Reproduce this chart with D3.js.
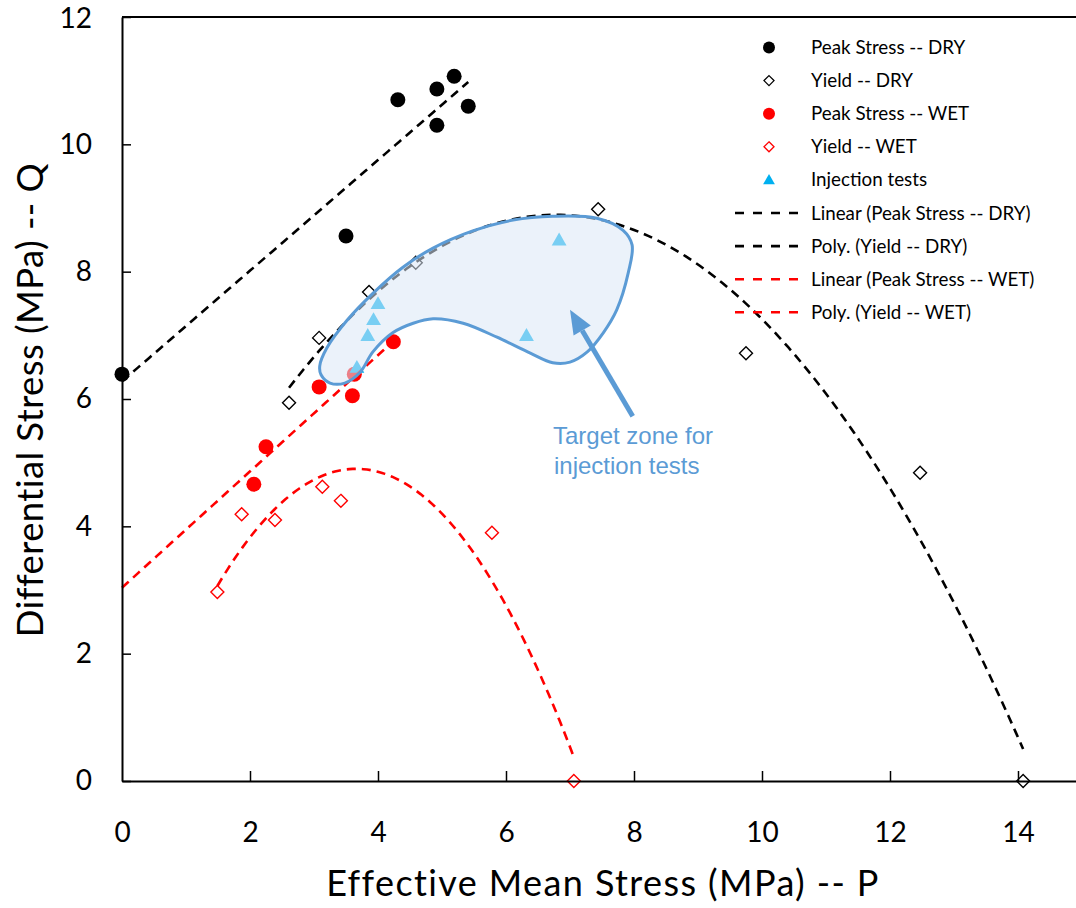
<!DOCTYPE html>
<html><head><meta charset="utf-8">
<script src="https://cdn.jsdelivr.net/npm/d3@7"></script>
<style>
body{margin:0;background:#fff}
svg{display:block;font-family:Lato,"Open Sans",sans-serif}
</style>
</head><body>
<svg id="chart" width="1076" height="908"></svg>
<script>
// Test results: effective mean stress P (MPa) vs differential stress Q (MPa)
const peakDryP = [0, 3.50, 4.31, 4.92, 4.92, 5.19, 5.41];
const peakDryQ = [6.39, 8.56, 10.70, 10.87, 10.30, 11.07, 10.60];
const yieldDryP = [2.61, 3.08, 3.86, 4.59, 7.44, 9.75, 12.47, 14.08];
const yieldDryQ = [5.94, 6.96, 7.68, 8.14, 8.98, 6.72, 4.84, 0.00];
const peakWetP = [2.06, 2.25, 3.08, 3.60, 3.63, 4.24];
const peakWetQ = [4.66, 5.25, 6.19, 6.05, 6.39, 6.90];
const yieldWetP = [1.49, 1.87, 2.39, 3.13, 3.42, 5.78, 7.06];
const yieldWetQ = [2.97, 4.19, 4.10, 4.62, 4.40, 3.90, 0.00];
const injP = [3.67, 3.84, 3.93, 4.00, 6.32, 6.83];
const injQ = [6.48, 6.98, 7.23, 7.48, 6.98, 8.48];

// Outline of the target zone (P, Q)
const zoneP = [3.09, 3.20, 3.52, 3.92, 4.39, 4.86, 5.48, 6.11, 6.73, 7.42, 7.83, 7.97, 7.91, 7.73, 7.52, 7.27, 7.00, 6.73, 6.38, 5.86, 5.33, 4.86, 4.55, 4.23, 3.92, 3.72, 3.48, 3.25, 3.11];
const zoneQ = [6.52, 6.80, 7.24, 7.66, 8.07, 8.37, 8.64, 8.81, 8.87, 8.84, 8.65, 8.42, 7.98, 7.40, 7.04, 6.74, 6.58, 6.57, 6.72, 6.97, 7.19, 7.26, 7.19, 7.04, 6.74, 6.42, 6.25, 6.25, 6.38];
const arrowFrom = [7.98, 5.73];
const arrowTo = [7.00, 7.40];

const xTicks = [0, 2, 4, 6, 8, 10, 12, 14];
const yTicks = [0, 2, 4, 6, 8, 10, 12];

const svg = d3.select("#chart");
const x = d3.scaleLinear().domain([0, 15]).range([122, 1082]);
const y = d3.scaleLinear().domain([0, 12]).range([781, 17]);

const zip = (a, b) => a.map((v, i) => [v, b[i]]);

// least-squares polynomial fit of given order (trendline)
function polyfit(xs, ys, order) {
  const n = order + 1;
  const A = Array.from({length: n}, () => new Array(n + 1).fill(0));
  xs.forEach((xv, k) => {
    for (let i = 0; i < n; i++) {
      for (let j = 0; j < n; j++) A[i][j] += Math.pow(xv, i + j);
      A[i][n] += ys[k] * Math.pow(xv, i);
    }
  });
  for (let c = 0; c < n; c++) {
    let p = c;
    for (let r = c + 1; r < n; r++) if (Math.abs(A[r][c]) > Math.abs(A[p][c])) p = r;
    [A[c], A[p]] = [A[p], A[c]];
    for (let r = 0; r < n; r++) {
      if (r === c) continue;
      const f = A[r][c] / A[c][c];
      for (let k = c; k <= n; k++) A[r][k] -= f * A[c][k];
    }
  }
  const coef = A.map((row, i) => row[n] / row[i]);
  return xv => coef.reduce((s, cf, i) => s + cf * Math.pow(xv, i), 0);
}
function trendPoints(f, x0, x1) {
  return d3.range(0, 101).map(i => { const xv = x0 + (x1 - x0) * i / 100; return [xv, f(xv)]; });
}
const line = d3.line().x(d => x(d[0])).y(d => y(d[1]));

// markers
const gMarks = svg.append("g");
gMarks.selectAll(".pd").data(zip(peakDryP, peakDryQ)).join("circle")
  .attr("cx", d => x(d[0])).attr("cy", d => y(d[1])).attr("r", 7.5).attr("fill", "#000");
gMarks.selectAll(".pw").data(zip(peakWetP, peakWetQ)).join("circle")
  .attr("cx", d => x(d[0])).attr("cy", d => y(d[1])).attr("r", 7.5).attr("fill", "#ff0000");
const diamond = s => `M0,${-s}L${s},0L0,${s}L${-s},0Z`;
gMarks.selectAll(".yd").data(zip(yieldDryP, yieldDryQ)).join("path")
  .attr("d", diamond(6.5)).attr("transform", d => `translate(${x(d[0])},${y(d[1])})`)
  .attr("fill", "#fff").attr("stroke", "#000").attr("stroke-width", 1.4);
gMarks.selectAll(".yw").data(zip(yieldWetP, yieldWetQ)).join("path")
  .attr("d", diamond(6.5)).attr("transform", d => `translate(${x(d[0])},${y(d[1])})`)
  .attr("fill", "#fff").attr("stroke", "#ff0000").attr("stroke-width", 1.4);
const tri = d3.symbol(d3.symbolTriangle, 95);
gMarks.selectAll(".inj").data(zip(injP, injQ)).join("path")
  .attr("d", tri()).attr("transform", d => `translate(${x(d[0])},${y(d[1])})`)
  .attr("fill", "#00b0f0");

// trendlines
const dash = "9,6";
const linDry = polyfit(peakDryP, peakDryQ, 1);
const polyDry = polyfit(yieldDryP, yieldDryQ, 2);
const linWet = polyfit(peakWetP, peakWetQ, 1);
const polyWet = polyfit(yieldWetP, yieldWetQ, 2);
const trends = [
  {pts: trendPoints(linDry, 0, d3.max(peakDryP)), c: "#000"},
  {pts: trendPoints(polyDry, d3.min(yieldDryP), d3.max(yieldDryP)), c: "#000"},
  {pts: trendPoints(linWet, 0, d3.max(peakWetP)), c: "#ff0000"},
  {pts: trendPoints(polyWet, d3.min(yieldWetP), d3.max(yieldWetP)), c: "#ff0000"}
];
svg.append("g").selectAll("path").data(trends).join("path")
  .attr("d", d => line(d.pts)).attr("fill", "none").attr("stroke", d => d.c)
  .attr("stroke-width", 2.6).attr("stroke-dasharray", dash);

// target zone
const zoneLine = d3.line().x(d => x(d[0])).y(d => y(d[1])).curve(d3.curveCatmullRomClosed.alpha(0.5));
svg.append("path").attr("d", zoneLine(zip(zoneP, zoneQ)))
  .attr("fill", "#dae8f6").attr("fill-opacity", 0.55)
  .attr("stroke", "#5b9bd5").attr("stroke-width", 3);

// arrow
const ax0 = x(arrowFrom[0]), ay0 = y(arrowFrom[1]), ax1 = x(arrowTo[0]), ay1 = y(arrowTo[1]);
const ang = Math.atan2(ay1 - ay0, ax1 - ax0);
const headL = 24, headW = 10;
const bx = ax1 - headL * Math.cos(ang), by = ay1 - headL * Math.sin(ang);
svg.append("line").attr("x1", ax0).attr("y1", ay0).attr("x2", bx).attr("y2", by)
  .attr("stroke", "#5b9bd5").attr("stroke-width", 5);
svg.append("path")
  .attr("d", `M${ax1},${ay1}L${bx + headW * Math.sin(ang)},${by - headW * Math.cos(ang)}L${bx - headW * Math.sin(ang)},${by + headW * Math.cos(ang)}Z`)
  .attr("fill", "#5b9bd5");

const note = svg.append("text").attr("x", 553).attr("y", 444).attr("fill", "#5b9bd5")
  .attr("font-size", 24).attr("font-family", "'Liberation Sans',Arial,sans-serif");
note.append("tspan").attr("x", 553).text("Target zone for");
note.append("tspan").attr("x", 554).attr("dy", 30).text("injection tests");

// axes
const xAxis = d3.axisBottom(x).tickValues(xTicks).tickSizeInner(-10).tickSizeOuter(0).tickPadding(41)
  .tickFormat(d3.format("d"));
const gx = svg.append("g").attr("transform", "translate(0,781)").call(xAxis);
const yAxis = d3.axisLeft(y).tickValues(yTicks).tickSizeInner(-9).tickSizeOuter(0).tickPadding(30)
  .tickFormat(d3.format("d"));
const gy = svg.append("g").attr("transform", "translate(122,0)").call(yAxis);
[gx, gy].forEach(g => {
  g.select(".domain").attr("stroke", "#000").attr("stroke-width", 2);
  g.selectAll(".tick line").attr("stroke", "#000").attr("stroke-width", 1.5);
  g.selectAll(".tick text").attr("font-size", 28).attr("font-family", "Lato,'Open Sans',sans-serif").attr("fill", "#000");
});
gy.selectAll(".tick").filter(d => d === 12).select("text").attr("dy", "0.36em");
gx.selectAll(".tick").filter(d => d === 0).select("line").remove();
svg.append("line").attr("x1", 122).attr("x2", 1082).attr("y1", 17).attr("y2", 17)
  .attr("stroke", "#000").attr("stroke-width", 2);

svg.append("text").attr("x", 603).attr("y", 896).attr("text-anchor", "middle")
  .attr("font-size", 36).attr("letter-spacing", 1.4).text("Effective Mean Stress (MPa) -- P");
svg.append("text").attr("transform", "translate(43,400) rotate(-90)").attr("text-anchor", "middle")
  .attr("font-size", 36.5).attr("letter-spacing", 0.4).text("Differential Stress (MPa) -- Q");

// legend
const legendItems = [
  {label: "Peak Stress -- DRY", kind: "circle", c: "#000"},
  {label: "Yield -- DRY", kind: "diamond", c: "#000"},
  {label: "Peak Stress -- WET", kind: "circle", c: "#ff0000"},
  {label: "Yield -- WET", kind: "diamond", c: "#ff0000"},
  {label: "Injection tests", kind: "triangle", c: "#00b0f0"},
  {label: "Linear (Peak Stress -- DRY)", kind: "line", c: "#000"},
  {label: "Poly. (Yield -- DRY)", kind: "line", c: "#000"},
  {label: "Linear (Peak Stress -- WET)", kind: "line", c: "#ff0000"},
  {label: "Poly. (Yield -- WET)", kind: "line", c: "#ff0000"}
];
const lg = svg.append("g").selectAll("g").data(legendItems).join("g")
  .attr("transform", (d, i) => `translate(0,${47.5 + i * 33.1})`);
lg.each(function(d) {
  const g = d3.select(this);
  if (d.kind === "circle") g.append("circle").attr("cx", 769).attr("r", 6).attr("fill", d.c);
  if (d.kind === "diamond") g.append("path").attr("d", diamond(5)).attr("transform", "translate(769,0)")
    .attr("fill", "#fff").attr("stroke", d.c).attr("stroke-width", 1.3);
  if (d.kind === "triangle") g.append("path").attr("d", d3.symbol(d3.symbolTriangle, 60)()).attr("transform", "translate(769,1)")
    .attr("fill", d.c);
  if (d.kind === "line") g.append("line").attr("x1", 735).attr("x2", 801).attr("stroke", d.c)
    .attr("stroke-width", 2.6).attr("stroke-dasharray", "9,9");
});
lg.append("text").attr("x", 811).attr("dy", "0.35em").attr("font-size", 18.8).attr("fill", "#000")
  .text(d => d.label);
</script>
</body></html>
